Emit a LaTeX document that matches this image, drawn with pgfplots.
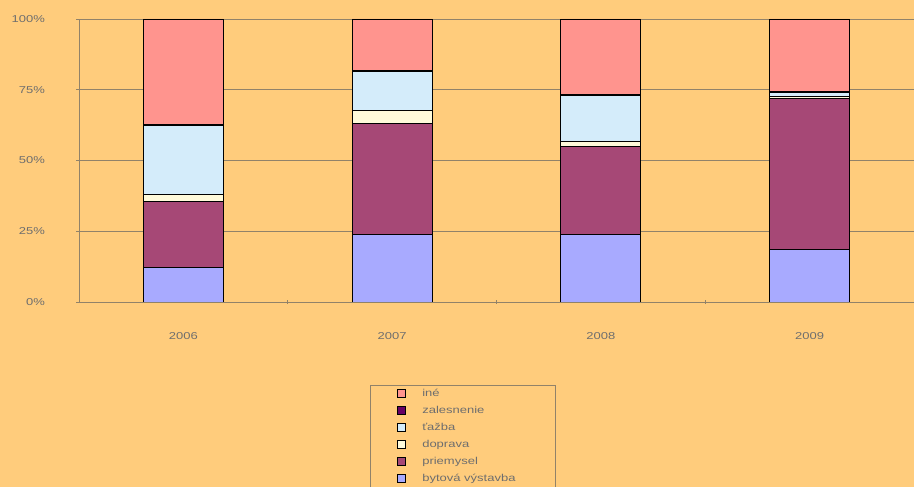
\documentclass[border=0pt]{standalone}
\usepackage{fontspec}
\setmainfont{Liberation Sans}[FakeStretch=1.3]
\usepackage{pgfplots}
\pgfplotsset{compat=1.18}
\definecolor{bgc}{RGB}{255,204,124}
\definecolor{gridc}{RGB}{145,130,105}
\definecolor{txtc}{RGB}{110,110,110}
\definecolor{cByt}{RGB}{168,170,255}
\definecolor{cPri}{RGB}{166,72,118}
\definecolor{cDop}{RGB}{255,250,218}
\definecolor{cTaz}{RGB}{212,236,250}
\definecolor{cZal}{RGB}{102,0,102}
\definecolor{cIne}{RGB}{255,148,142}

\begin{document}
\begin{tikzpicture}
\fill[bgc] (0,0) rectangle (914pt,487pt);
\begin{axis}[
  at={(79pt,185pt)}, anchor=south west,
  scale only axis,
  width=835pt, height=283pt,
  ybar stacked,
  bar width=80pt,
  xmin=-0.5, xmax=3.5,
  ymin=0, ymax=100,
  axis lines=left,
  axis line style={-, draw=gridc, line width=0.8pt},
  xtick={0,1,2,3},
  xticklabels={2006,2007,2008,2009},
  minor xtick={0.5,1.5,2.5},
  major x tick style={draw=none},
  minor x tick style={draw=gridc, line width=0.8pt},
  minor tick length=4pt,
  ytick={0,25,50,75,100},
  yticklabel={\pgfmathprintnumber{\tick}\%},
  /pgf/number format/assume math mode=true,
  major tick length=5pt,
  tick align=center,
  major y tick style={draw=gridc, line width=0.8pt},
  ymajorgrids,
  grid style={draw=gridc, line width=0.9pt},
  tick label style={font=\fontsize{10}{12}\selectfont, text=txtc},
  yticklabel style={xshift=-28pt},
  xticklabel style={yshift=-24pt},
  every axis plot/.append style={draw=black, line width=0.9pt},
  legend style={
    at={(0.3485,-0.293)}, anchor=north west,
    draw=gridc, fill=bgc, line width=0.6pt,
    inner xsep=0pt, inner ysep=3pt,
    font=\fontsize{10}{12}\selectfont, text=txtc,
    nodes={inner sep=0pt, text height=8pt, text depth=3pt},
    row sep=6pt,
  },
  legend cell align=left,
  reverse legend,
  legend image code/.code={
    \path[draw=none, fill=none] (0pt,0pt) rectangle (52pt,0pt);
    \draw[#1, line width=0.7pt] (27pt,-3.5pt) rectangle (35pt,4.5pt);
  },
]
\addplot[fill=cByt] coordinates {(0,12.2) (1,23.9) (2,24.0) (3,18.6)};
\addplot[fill=cPri] coordinates {(0,23.2) (1,39.2) (2,31.1) (3,53.4)};
\addplot[fill=cDop] coordinates {(0,2.6) (1,4.5) (2,1.5) (3,0.5)};
\addplot[fill=cTaz] coordinates {(0,24.3) (1,13.8) (2,16.5) (3,1.5)};
\addplot[fill=cZal] coordinates {(0,0.5) (1,0.3) (2,0.3) (3,0.3)};
\addplot[fill=cIne] coordinates {(0,37.2) (1,18.3) (2,26.6) (3,25.7)};
\legend{\makebox[133pt][l]{bytová výstavba},\makebox[133pt][l]{priemysel},\makebox[133pt][l]{doprava},\makebox[133pt][l]{ťažba},\makebox[133pt][l]{zalesnenie},\makebox[133pt][l]{iné}}
\end{axis}
\pgfresetboundingbox
\useasboundingbox (0,0) rectangle (914pt,487pt);
\end{tikzpicture}
\end{document}
